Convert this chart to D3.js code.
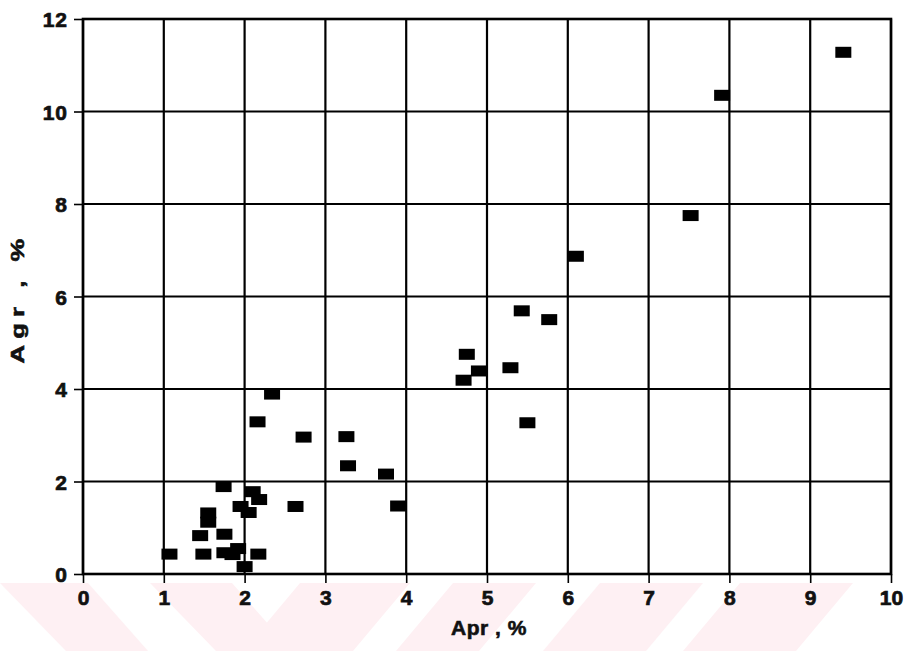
<!DOCTYPE html>
<html>
<head>
<meta charset="utf-8">
<script src="https://cdn.jsdelivr.net/npm/d3@7"></script>
<style>
  html, body { margin: 0; padding: 0; background: #fff; }
  svg { display: block; }
  text { font-family: "Liberation Sans", Arial, sans-serif; font-weight: bold; fill: #111; }
</style>
</head>
<body>
<svg id="chart" width="913" height="651"></svg>
<script>
// Apr (%) against Agr (%) for each sample
const apr = [2.34, 2.16, 2.73, 3.26, 3.28, 3.75, 3.90, 1.74, 2.10, 2.18, 1.95, 2.05,
             2.63, 1.55, 1.55, 1.45, 1.75, 1.07, 1.49, 1.75, 1.85, 1.92, 2.17, 2.00,
             4.75, 4.90, 4.71, 5.29, 5.43, 5.77, 5.50, 6.10, 7.52, 7.91, 9.41];
const agr = [3.89, 3.29, 2.96, 2.97, 2.34, 2.16, 1.47, 1.89, 1.78, 1.61, 1.46, 1.33,
             1.46, 1.32, 1.12, 0.83, 0.86, 0.43, 0.43, 0.46, 0.42, 0.55, 0.43, 0.16,
             4.75, 4.39, 4.19, 4.46, 5.69, 5.50, 3.27, 6.87, 7.75, 10.35, 11.28];

const xTicks = [0, 1, 2, 3, 4, 5, 6, 7, 8, 9, 10];
const yTicks = [0, 2, 4, 6, 8, 10, 12];
const xTitle = "Apr , %";
const yTitle = "Agr , %";

const svg = d3.select("#chart");
const W = 913, H = 651;
const plotLeft = 83, plotRight = 891, plotTop = 19, plotBottom = 574;

const x = d3.scaleLinear().domain([0, 10]).range([plotLeft, plotRight]);
const y = d3.scaleLinear().domain([0, 12]).range([plotBottom, plotTop]);

// faint pink diagonal bands along the bottom edge
const bandTop = 583;
const bandColor = "#fef0f3";
const backBands = [[0, 88], [150, 232]];          // slanting down to the right
const fwdBands = [[300, 410], [453, 536], [600, 703], [740, 853]]; // slanting up to the right
const bands = svg.append("g");
backBands.forEach(([a, b]) => {
  bands.append("path")
    .attr("d", `M${a},${bandTop}L${b},${bandTop}L${b + 60},${H}L${a + 66},${H}Z`)
    .attr("fill", bandColor);
});
fwdBands.forEach(([a, b]) => {
  bands.append("path")
    .attr("d", `M${a},${bandTop}L${b},${bandTop}L${b - 57},${H}L${a - 57},${H}Z`)
    .attr("fill", bandColor);
});

// grid
const grid = svg.append("g").attr("stroke", "#000").attr("stroke-width", 2.2);
grid.selectAll("line.v").data(xTicks).join("line")
  .attr("class", "v")
  .attr("x1", d => x(d)).attr("x2", d => x(d))
  .attr("y1", plotTop).attr("y2", plotBottom);
grid.selectAll("line.h").data(yTicks).join("line")
  .attr("class", "h")
  .attr("x1", plotLeft).attr("x2", plotRight)
  .attr("y1", d => y(d)).attr("y2", d => y(d));

// frame
svg.append("rect")
  .attr("x", plotLeft).attr("y", plotTop)
  .attr("width", plotRight - plotLeft).attr("height", plotBottom - plotTop)
  .attr("fill", "none").attr("stroke", "#000").attr("stroke-width", 2.6);

// axes
const xAxis = svg.append("g")
  .attr("transform", `translate(0,${plotBottom})`)
  .call(d3.axisBottom(x).tickValues(xTicks).tickFormat(d3.format("d")).tickSize(9).tickPadding(6));
const yAxis = svg.append("g")
  .attr("transform", `translate(${plotLeft},0)`)
  .call(d3.axisLeft(y).tickValues(yTicks).tickFormat(d3.format("d")).tickSize(9).tickPadding(6));

[xAxis, yAxis].forEach(g => {
  g.select(".domain").remove();
  g.selectAll(".tick line").attr("stroke", "#000").attr("stroke-width", 1.6);
  g.selectAll(".tick text")
    .attr("fill", "#111")
    .attr("stroke", "#111")
    .attr("stroke-width", 0.7)
    .style("font-family", "'Liberation Sans', Arial, sans-serif")
    .style("font-weight", "bold")
    .style("font-size", "21px");
});
xAxis.selectAll(".tick text").attr("dy", "0.78em");
yAxis.selectAll(".tick text").attr("dy", "0.36em").style("letter-spacing", "1px");

// axis titles
svg.append("text")
  .attr("x", (plotLeft + plotRight) / 2 + 2).attr("y", 635)
  .attr("text-anchor", "middle")
  .attr("stroke", "#111").attr("stroke-width", 0.6)
  .style("font-size", "21px")
  .style("letter-spacing", "0.5px")
  .text(xTitle);

svg.append("text")
  .attr("transform", "translate(24,298) rotate(-90) scale(1.35,1)")
  .attr("text-anchor", "middle")
  .attr("stroke", "#111").attr("stroke-width", 0.6)
  .style("font-size", "19px")
  .style("letter-spacing", "4.5px")
  .text(yTitle);

// points
const pts = apr.map((v, i) => ({ x: v, y: agr[i] }));
const mw = 16, mh = 11;
svg.append("g").selectAll("rect").data(pts).join("rect")
  .attr("x", d => x(d.x) - mw / 2)
  .attr("y", d => y(d.y) - mh / 2)
  .attr("width", mw).attr("height", mh)
  .attr("fill", "#000");
</script>
</body>
</html>
